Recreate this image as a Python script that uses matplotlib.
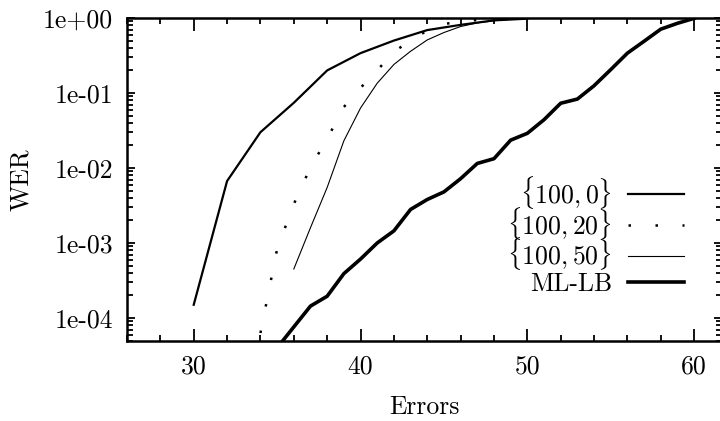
import matplotlib
matplotlib.use("Agg")
import matplotlib.pyplot as plt
from matplotlib.ticker import LogLocator, MultipleLocator, NullFormatter

plt.rcParams["font.family"] = "serif"
plt.rcParams["font.serif"] = ["cmr10"]
plt.rcParams["mathtext.fontset"] = "cm"
plt.rcParams["axes.formatter.use_mathtext"] = True

FS = 18.5

# WER vs number of errors
errors_100_0 = [30, 32, 34, 36, 38, 40, 42, 44, 46, 48, 50]
wer_100_0 = [1.5e-4, 6.7e-3, 3.0e-2, 7.4e-2, 2.0e-1, 3.4e-1, 5.0e-1, 6.9e-1,
             8.1e-1, 9.3e-1, 9.8e-1]

errors_100_20 = [34, 35, 36, 37, 38, 39, 40, 41, 42, 43, 44, 45, 46, 47, 48, 49, 50]
wer_100_20 = [6.3e-5, 8.3e-4, 3.3e-3, 1.02e-2, 2.45e-2, 6.5e-2, 1.17e-1, 2.0e-1,
              3.55e-1, 5.0e-1, 6.8e-1, 8.3e-1, 9.0e-1, 9.4e-1, 9.6e-1, 9.8e-1, 9.9e-1]

errors_100_50 = [36, 37, 38, 39, 40, 41, 42, 43, 44, 45, 46, 47, 48, 49, 50]
wer_100_50 = [4.5e-4, 1.6e-3, 5.5e-3, 2.3e-2, 6.3e-2, 1.35e-1, 2.4e-1, 3.6e-1,
              5.1e-1, 6.4e-1, 7.7e-1, 8.6e-1, 9.2e-1, 9.6e-1, 9.8e-1]

errors_ml_lb = [35, 36, 37, 38, 39, 40, 41, 42, 43, 44, 45, 46, 47, 48, 49, 50,
                51, 52, 53, 54, 55, 56, 57, 58, 59, 60]
wer_ml_lb = [4.0e-5, 7.6e-5, 1.44e-4, 1.95e-4, 3.9e-4, 6.1e-4, 1.0e-3, 1.45e-3,
             2.8e-3, 3.8e-3, 4.8e-3, 7.2e-3, 1.15e-2, 1.33e-2, 2.35e-2, 2.9e-2,
             4.4e-2, 7.3e-2, 8.3e-2, 1.25e-1, 2.05e-1, 3.4e-1, 4.9e-1, 7.1e-1,
             8.5e-1, 9.9e-1]

xticks = [30, 40, 50, 60]
yticks = [1e-4, 1e-3, 1e-2, 1e-1, 1e0]
ytick_labels = ["1e-04", "1e-03", "1e-02", "1e-01", "1e+00"]

fig = plt.figure(figsize=(7.2, 4.21), dpi=100)
ax = fig.add_axes([127 / 720, 80 / 421, 595 / 720, 323 / 421])

h0, = ax.plot(errors_100_0, wer_100_0, "-", color="black", lw=1.6, label=r"$\{100, 0\}$")
h20, = ax.plot(errors_100_20, wer_100_20, color="black", lw=1.8,
               linestyle=(0, (1, 9.8)), label=r"$\{100, 20\}$")
h50, = ax.plot(errors_100_50, wer_100_50, "-", color="black", lw=0.8,
               label=r"$\{100, 50\}$")
hml, = ax.plot(errors_ml_lb, wer_ml_lb, "-", color="black", lw=2.6, label="ML-LB")

ax.set_yscale("log")
ax.set_xlim(26, 61.67)
ax.set_ylim(4.93e-5, 1.0)

ax.set_xticks(xticks)
ax.set_xticklabels([str(t) for t in xticks])
ax.xaxis.set_minor_locator(MultipleLocator(2))
ax.set_yticks(yticks)
ax.set_yticklabels(ytick_labels)
ax.yaxis.set_minor_locator(LogLocator(base=10, subs=range(2, 10), numticks=20))
ax.yaxis.set_minor_formatter(NullFormatter())

ax.tick_params(axis="both", which="both", direction="in", top=True, right=True,
               labelsize=FS, width=1.3, color="black")
ax.tick_params(axis="x", which="major", length=9, pad=10)
ax.tick_params(axis="x", which="minor", length=4.5)
ax.tick_params(axis="y", which="major", length=5.5, pad=10)
ax.tick_params(axis="y", which="minor", length=4.5)

for s in ax.spines.values():
    s.set_linewidth(1.8)

ax.set_xlabel("Errors", fontsize=FS, labelpad=12)
ax.set_ylabel("WER", fontsize=FS, labelpad=7)

# gnuplot-style key: text right-aligned, sample on the right
key_opts = dict(frameon=False, markerfirst=False, fontsize=FS, handlelength=2.18,
                handletextpad=0.62, borderpad=0, borderaxespad=0)
key1 = ax.legend(handles=[h0, h20, h50], loc="upper right",
                 bbox_to_anchor=(0.936, 0.516), labelspacing=-0.25, **key_opts)
ax.add_artist(key1)
ax.legend(handles=[hml], loc="center right", bbox_to_anchor=(0.936, 0.177), **key_opts)

fig.savefig("out.png", dpi=100)
